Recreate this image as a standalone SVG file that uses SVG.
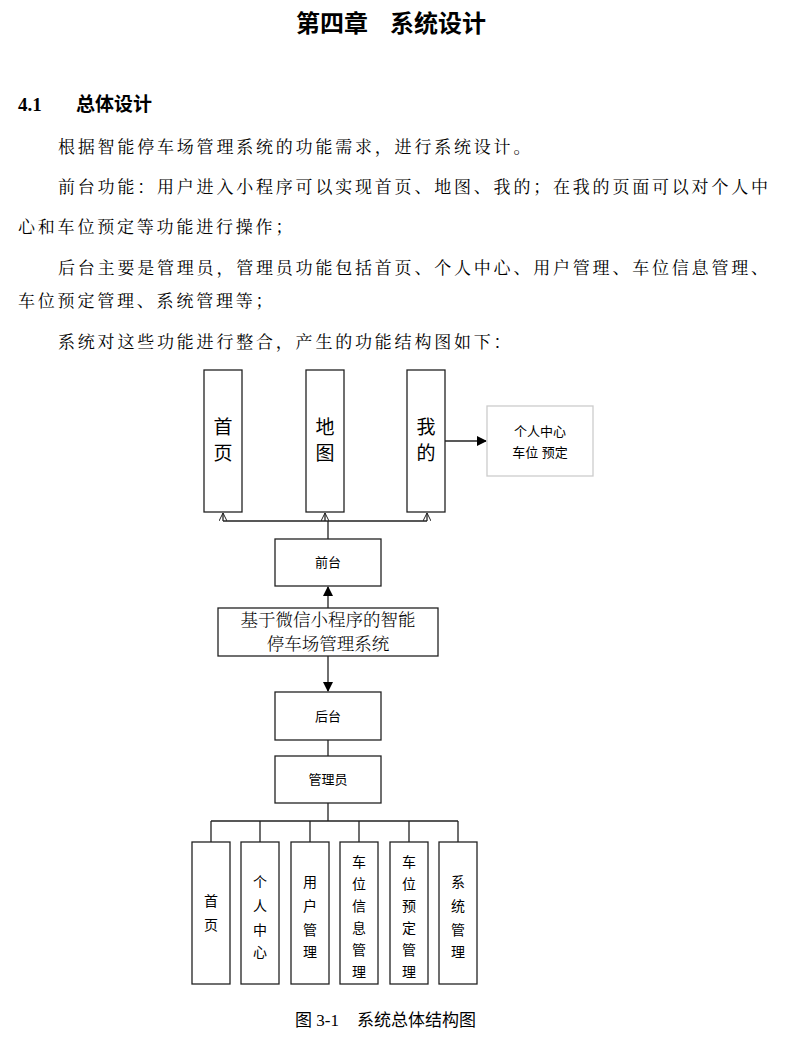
<svg xmlns="http://www.w3.org/2000/svg" width="800" height="1060" viewBox="0 0 800 1060">
<style>
.s{font-family:"Liberation Serif","Noto Serif CJK SC","Noto Sans CJK SC",serif;font-size:17px;fill:#000;letter-spacing:2.8px}
.b{fill:#fff;stroke:#222;stroke-width:1.3}
.t{font-family:"Liberation Sans","Noto Sans CJK SC",sans-serif;fill:#000;text-anchor:middle}
.l{stroke:#222;stroke-width:1.3;fill:none}
</style>
<defs>
<marker id="a" markerWidth="10" markerHeight="10" refX="9" refY="5" orient="auto" markerUnits="userSpaceOnUse"><path d="M0,0L10,5L0,10z" fill="#000"/></marker>
<marker id="o" markerWidth="10" markerHeight="8" refX="8" refY="4" orient="auto" markerUnits="userSpaceOnUse"><path d="M0,0L8,4L0,8" fill="none" stroke="#222"/></marker>
</defs>
<rect width="800" height="1060" fill="#fff"/>
<g style="font-family:'Noto Sans CJK SC',sans-serif;font-size:24px;font-weight:bold">
<text x="296" y="32">第四章</text><text x="390" y="32">系统设计</text></g>
<g style="font-family:'Liberation Serif','Noto Sans CJK SC',serif;font-size:19px;font-weight:bold">
<text x="18" y="111">4.1</text><text x="76" y="111">总体设计</text></g>
<text class="s" x="58" y="153">根据智能停车场管理系统的功能需求，进行系统设计。</text>
<text class="s" x="58" y="193">前台功能：用户进入小程序可以实现首页、地图、我的；在我的页面可以对个人中</text>
<text class="s" x="18" y="233">心和车位预定等功能进行操作；</text>
<text class="s" x="58" y="274">后台主要是管理员，管理员功能包括首页、个人中心、用户管理、车位信息管理、</text>
<text class="s" x="18" y="307">车位预定管理、系统管理等；</text>
<text class="s" x="58" y="348">系统对这些功能进行整合，产生的功能结构图如下：</text>
<g id="connectors">
<path class="l" d="M328,539V521M223,521H427" />
<path class="l" d="M223,521V513" marker-end="url(#o)"/>
<path class="l" d="M325,521V513" marker-end="url(#o)"/>
<path class="l" d="M427,521V513" marker-end="url(#o)"/>
<path class="l" d="M445,441H486" marker-end="url(#a)" stroke-width="2"/>
<path class="l" d="M328,608V587" marker-end="url(#a)" stroke-width="2"/>
<path class="l" d="M328,656V691" marker-end="url(#a)" stroke-width="2"/>
<path class="l" d="M328,740V756M328,803V821M211,821H458M211,821V842M260,821V842M310,821V842M359,821V842M409,821V842M458,821V842"/>
</g>
<g id="n1"><rect class="b" x="204" y="370" width="38" height="142"/><text class="t" font-size="19"><tspan x="223" y="434">首</tspan><tspan x="223" y="460">页</tspan></text></g>
<g id="n2"><rect class="b" x="306" y="370" width="38" height="142"/><text class="t" font-size="19"><tspan x="325" y="434">地</tspan><tspan x="325" y="460">图</tspan></text></g>
<g id="n3"><rect class="b" x="407" y="370" width="38" height="142"/><text class="t" font-size="19"><tspan x="426" y="434">我</tspan><tspan x="426" y="460">的</tspan></text></g>
<g id="n4"><rect x="487" y="406" width="106" height="70" fill="#fff" stroke="#ccc" stroke-width="1.3"/><text class="t" font-size="13"><tspan x="540" y="436">个人中心</tspan><tspan x="540" y="457">车位 预定</tspan></text></g>
<g id="n5"><rect class="b" x="275" y="539" width="106" height="47"/><text class="t" x="328" y="567" font-size="13">前台</text></g>
<g id="n6"><rect class="b" x="218" y="608" width="220" height="48"/><text style="font-family:'Noto Serif CJK SC','Noto Sans CJK SC',serif;font-size:17.5px;font-weight:300" text-anchor="middle"><tspan x="328" y="626">基于微信小程序的智能</tspan><tspan x="328" y="650">停车场管理系统</tspan></text></g>
<g id="n7"><rect class="b" x="275" y="692" width="106" height="48"/><text class="t" x="328" y="721" font-size="13">后台</text></g>
<g id="n8"><rect class="b" x="275" y="756" width="106" height="47"/><text class="t" x="328" y="784" font-size="13">管理员</text></g>
<g id="c1"><rect class="b" x="192" y="842" width="38" height="142"/><text class="t" font-size="14"><tspan x="211" y="906">首</tspan><tspan x="211" y="930">页</tspan></text></g>
<g id="c2"><rect class="b" x="241" y="842" width="38" height="142"/><text class="t" font-size="14"><tspan x="260" y="887">个</tspan><tspan x="260" y="911">人</tspan><tspan x="260" y="935">中</tspan><tspan x="260" y="957">心</tspan></text></g>
<g id="c3"><rect class="b" x="291" y="842" width="38" height="142"/><text class="t" font-size="14"><tspan x="310" y="887">用</tspan><tspan x="310" y="911">户</tspan><tspan x="310" y="935">管</tspan><tspan x="310" y="957">理</tspan></text></g>
<g id="c4"><rect class="b" x="340" y="842" width="38" height="142"/><text class="t" font-size="14"><tspan x="359" y="867">车</tspan><tspan x="359" y="889">位</tspan><tspan x="359" y="911">信</tspan><tspan x="359" y="933">息</tspan><tspan x="359" y="955">管</tspan><tspan x="359" y="977">理</tspan></text></g>
<g id="c5"><rect class="b" x="390" y="842" width="38" height="142"/><text class="t" font-size="14"><tspan x="409" y="867">车</tspan><tspan x="409" y="889">位</tspan><tspan x="409" y="911">预</tspan><tspan x="409" y="933">定</tspan><tspan x="409" y="955">管</tspan><tspan x="409" y="977">理</tspan></text></g>
<g id="c6"><rect class="b" x="439" y="842" width="38" height="142"/><text class="t" font-size="14"><tspan x="458" y="887">系</tspan><tspan x="458" y="911">统</tspan><tspan x="458" y="935">管</tspan><tspan x="458" y="957">理</tspan></text></g>
<g style="font-family:'Liberation Serif','Noto Sans CJK SC',serif;font-size:17px">
<text x="295" y="1026">图 3-1</text><text x="357" y="1026">系统总体结构图</text></g>
</svg>
